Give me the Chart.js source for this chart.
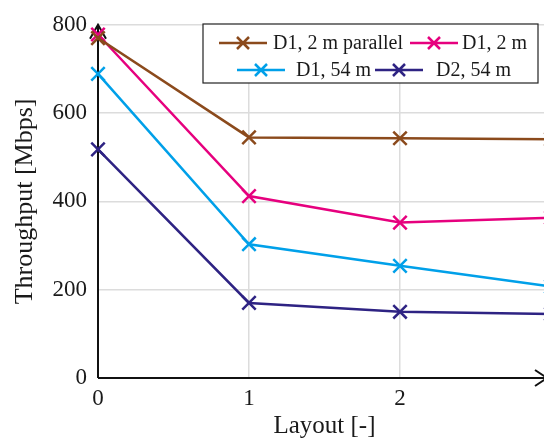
<!DOCTYPE html>
<html>
<head>
<meta charset="utf-8">
<script src="https://cdn.jsdelivr.net/npm/chart.js@4.4.0/dist/chart.umd.min.js"></script>
<style>
  html, body { margin: 0; padding: 0; background: #fff; overflow: hidden; }
  #wrap { width: 544px; height: 441px; overflow: hidden; }
</style>
</head>
<body>
<div id="wrap"><canvas id="myChart" width="575" height="441"></canvas></div>
<script>
  // layout index on the x axis
  const layouts = [0, 1, 2, 3];
  // throughput in Mbps
  const d1Parallel = [770, 545, 543, 541];
  const d1Short = [778, 412, 352, 363];
  const d1Long = [689, 303, 254, 207];
  const d2Long = [518, 170, 150, 145];
  const yTicks = [0, 200, 400, 600, 800];

  const names = ['D1, 2 m parallel', 'D1, 2 m', 'D1, 54 m', 'D2, 54 m'];
  const colors = ['#8B4A1C', '#E6007E', '#00A0E9', '#2E2383'];
  const series = [d1Parallel, d1Short, d1Long, d2Long];

  const serif = "'Liberation Serif', 'Times New Roman', serif";

  const datasets = series.map((vals, i) => ({
    label: names[i],
    data: vals.map((v, j) => ({ x: layouts[j], y: v })),
    borderColor: colors[i],
    backgroundColor: colors[i],
    borderWidth: 2.5,
    pointStyle: 'crossRot',
    pointRadius: 9.5,
    pointBorderWidth: 2.5,
    tension: 0,
    clip: false,
  }));

  // axis lines with open arrow heads
  const axesPlugin = {
    id: 'axes',
    beforeDatasetsDraw(chart) {
      const ctx = chart.ctx;
      const a = chart.chartArea;
      const x0 = a.left, y0 = a.bottom;
      const xEnd = 547;
      ctx.save();
      ctx.strokeStyle = '#111';
      ctx.lineWidth = 2;
      ctx.beginPath();
      ctx.moveTo(x0, y0);
      ctx.lineTo(x0, a.top);
      ctx.moveTo(x0 - 8, a.top + 14);
      ctx.lineTo(x0, a.top);
      ctx.lineTo(x0 + 8, a.top + 14);
      ctx.moveTo(x0, y0);
      ctx.lineTo(xEnd, y0);
      ctx.moveTo(xEnd - 12, y0 - 8);
      ctx.lineTo(xEnd, y0);
      ctx.lineTo(xEnd - 12, y0 + 8);
      ctx.stroke();
      ctx.restore();
    }
  };

  // boxed legend, two items per row, line + cross symbol
  const legendPlugin = {
    id: 'boxLegend',
    afterDraw(chart) {
      const ctx = chart.ctx;
      const box = { x: 203, y: 24, w: 335, h: 59 };
      const rows = [43, 70];
      const lineX = [219, 410, 237, 375];
      const textX = [273, 462, 296, 436];
      ctx.save();
      ctx.fillStyle = '#fff';
      ctx.fillRect(box.x, box.y, box.w, box.h);
      ctx.strokeStyle = '#222';
      ctx.lineWidth = 1.2;
      ctx.strokeRect(box.x, box.y, box.w, box.h);
      ctx.font = '20px ' + serif;
      ctx.textBaseline = 'middle';
      chart.data.datasets.forEach((ds, i) => {
        const y = rows[Math.floor(i / 2)];
        const lx = lineX[i];
        ctx.strokeStyle = ds.borderColor;
        ctx.lineWidth = 2.5;
        ctx.beginPath();
        ctx.moveTo(lx, y);
        ctx.lineTo(lx + 48, y);
        const cx = lx + 24, r = 6;
        ctx.moveTo(cx - r, y - r); ctx.lineTo(cx + r, y + r);
        ctx.moveTo(cx + r, y - r); ctx.lineTo(cx - r, y + r);
        ctx.stroke();
        ctx.fillStyle = '#1a1a1a';
        ctx.fillText(ds.label, textX[i], y + 1);
      });
      ctx.restore();
    }
  };

  const config = {
    type: 'line',
    data: { datasets },
    options: {
      responsive: false,
      animation: false,
      layout: { padding: { left: 0, top: 18, right: 24, bottom: 0 } },
      plugins: { legend: { display: false }, tooltip: { enabled: false } },
      scales: {
        x: {
          type: 'linear',
          min: layouts[0],
          max: layouts[layouts.length - 1],
          afterFit(scale) { scale.height = 63; },
          grid: {
            color: ctx => ctx.tick && ctx.tick.value === 0 ? 'rgba(0,0,0,0)' : '#dcdcdc',
            lineWidth: 1.5,
            drawTicks: false,
          },
          border: { display: false },
          ticks: {
            stepSize: 1,
            padding: 7,
            color: '#1a1a1a',
            font: { family: serif, size: 23 },
          },
          title: {
            display: true,
            text: 'Layout [-]',
            color: '#1a1a1a',
            font: { family: serif, size: 25 },
            padding: { top: 0, bottom: 0 },
          },
        },
        y: {
          min: yTicks[0],
          max: yTicks[yTicks.length - 1],
          afterFit(scale) { scale.width = 98; },
          afterBuildTicks(scale) { scale.ticks = yTicks.map(v => ({ value: v })); },
          grid: { color: '#dcdcdc', lineWidth: 1.5, drawTicks: false },
          border: { display: false },
          ticks: {
            padding: 11,
            color: '#1a1a1a',
            font: { family: serif, size: 23 },
          },
          title: {
            display: true,
            text: 'Throughput [Mbps]',
            color: '#1a1a1a',
            font: { family: serif, size: 26 },
            padding: { top: 10, bottom: 0 },
          },
        },
      },
    },
    plugins: [axesPlugin, legendPlugin],
  };

  const myChart = new Chart(document.getElementById('myChart'), config);
</script>
</body>
</html>
